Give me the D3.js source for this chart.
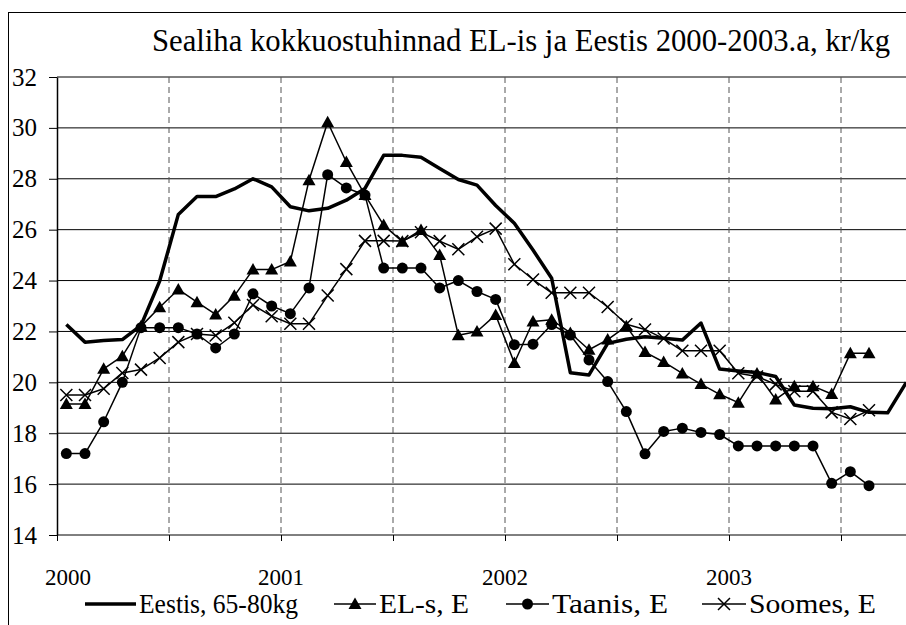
<!DOCTYPE html>
<html>
<head>
<meta charset="utf-8">
<script src="https://cdn.jsdelivr.net/npm/d3@7"></script>
<style>
  body { margin: 0; background: #fff; }
</style>
</head>
<body>
<div id="chart"></div>
<script>
// monthly prices, kr/kg, index 0 = Jan 2000
const eestis = [22.27, 21.58, 21.64, 21.68, 22.24, 23.98, 26.6, 27.3, 27.3, 27.6, 28.0, 27.68,
  26.9, 26.74, 26.84, 27.16, 27.62, 28.92, 28.92, 28.85, 28.4, 27.97, 27.75, 26.95,
  26.25, 25.2, 24.09, 20.38, 20.29, 21.53, 21.69, 21.79, 21.73, 21.66, 22.33, 20.52,
  20.45, 20.39, 20.23, 19.11, 18.98, 18.96, 19.04, 18.82, 18.8, 20.0];
const els = [19.15, 19.15, 20.53, 21.03, 22.2, 22.95, 23.65, 23.15, 22.67, 23.4, 24.43, 24.43,
  24.75, 27.94, 30.22, 28.66, 27.36, 26.18, 25.53, 25.99, 25.0, 21.85, 22.0, 22.65,
  20.76, 22.39, 22.46, 21.94, 21.28, 21.68, 22.2, 21.19, 20.8, 20.35, 19.93, 19.53,
  19.2, 20.35, 19.33, 19.85, 19.85, 19.54, 21.14, 21.14];
const taanis = [17.2, 17.2, 18.45, 20.0, 22.15, 22.15, 22.15, 21.9, 21.35, 21.9, 23.48, 23.0,
  22.7, 23.71, 28.16, 27.64, 27.36, 24.49, 24.49, 24.49, 23.71, 24.0, 23.57, 23.26,
  21.48, 21.5, 22.27, 21.86, 20.88, 20.03, 18.85, 17.19, 18.07, 18.2, 18.03, 17.95,
  17.5, 17.5, 17.5, 17.5, 17.5, 16.03, 16.49, 15.94];
const soomes = [19.5, 19.5, 19.75, 20.37, 20.5, 20.96, 21.58, 21.9, 21.84, 22.34, 23.04, 22.6,
  22.3, 22.3, 23.41, 24.45, 25.56, 25.56, 25.55, 25.9, 25.55, 25.23, 25.72, 26.04,
  24.64, 24.04, 23.52, 23.52, 23.52, 22.96, 22.28, 22.08, 21.72, 21.24, 21.24, 21.24,
  20.36, 20.23, 19.92, 19.65, 19.65, 18.82, 18.56, 18.9];
const years = ['2000', '2001', '2002', '2003'];
const yTicks = [14, 16, 18, 20, 22, 24, 26, 28, 30, 32];
const title = 'Sealiha kokkuostuhinnad EL-is ja Eestis 2000-2003.a, kr/kg';

const FONT = '"Liberation Serif"';

const series = [
  { name: 'Eestis, 65-80kg', values: eestis, marker: null, width: 3.5 },
  { name: 'EL-s, E', values: els, marker: 'triangle', width: 1.5 },
  { name: 'Taanis, E', values: taanis, marker: 'circle', width: 1.5 },
  { name: 'Soomes, E', values: soomes, marker: 'cross', width: 1.5 }
];

const W = 906, H = 625;
const margin = { top: 77, left: 57 };
const plotBottom = 535;
const plotRight = 953; // plot runs past the picture's right edge

const svg = d3.select('#chart').append('svg')
  .attr('width', W)
  .attr('height', H);

// texts go straight onto the svg root, styled inline
const addText = (size, str) => svg.append('text')
  .style('font-family', FONT)
  .style('font-size', size + 'px')
  .attr('fill', '#000')
  .text(str);

// outer frame
svg.append('rect')
  .attr('x', 8.5).attr('y', 12.5)
  .attr('width', 1000).attr('height', 1000)
  .attr('fill', 'none').attr('stroke', '#000').attr('stroke-width', 1);

// month scale: boundaries 0..48, points drawn in the middle of a month
const x = d3.scaleLinear().domain([0, 48]).range([margin.left, plotRight]);
const y = d3.scaleLinear().domain([14, 32]).range([plotBottom, margin.top]);

// horizontal gridlines
svg.append('g')
  .selectAll('line')
  .data(yTicks)
  .join('line')
  .attr('x1', margin.left).attr('x2', plotRight)
  .attr('y1', d => y(d)).attr('y2', d => y(d))
  .attr('stroke', '#000').attr('stroke-width', 1);

// dashed half-year lines
svg.append('g')
  .selectAll('line')
  .data(d3.range(6, 48, 6))
  .join('line')
  .attr('x1', d => x(d)).attr('x2', d => x(d))
  .attr('y1', margin.top).attr('y2', plotBottom)
  .attr('stroke', '#555').attr('stroke-width', 1)
  .attr('stroke-dasharray', '6,4');

// y axis (ticks from d3, labels added at the root below)
const yAxis = svg.append('g')
  .attr('transform', `translate(${margin.left},0)`)
  .call(d3.axisLeft(y).tickValues(yTicks).tickSize(8).tickSizeOuter(0).tickFormat(''));
yAxis.select('.domain').attr('stroke-width', 1.5);
yAxis.selectAll('.tick line').attr('stroke-width', 1);

yTicks.forEach(t => {
  addText(25, t)
    .attr('x', margin.left - 20)
    .attr('y', y(t))
    .attr('dy', '0.34em')
    .attr('text-anchor', 'end');
});

// x axis
const xAxis = svg.append('g')
  .attr('transform', `translate(0,${plotBottom})`)
  .call(d3.axisBottom(x)
    .tickValues(d3.range(0, 48, 6))
    .tickSize(6)
    .tickSizeOuter(0)
    .tickFormat(''));
xAxis.select('.domain').remove();

years.forEach((yr, k) => {
  addText(23, yr)
    .attr('x', x(k * 12) + (k === 0 ? 11 : 0))
    .attr('y', 585)
    .attr('text-anchor', 'middle');
});

// lines
const line = d3.line()
  .x((d, i) => x(i + 0.5))
  .y(d => y(d));

const drawMarker = (g, type, cx, cy) => {
  if (type === 'triangle') {
    g.append('path')
      .attr('d', `M${cx},${cy - 6.5}L${cx + 6.5},${cy + 5}L${cx - 6.5},${cy + 5}Z`)
      .attr('fill', '#000');
  } else if (type === 'circle') {
    g.append('circle').attr('cx', cx).attr('cy', cy).attr('r', 5.5).attr('fill', '#000');
  } else if (type === 'cross') {
    g.append('path')
      .attr('d', `M${cx - 6},${cy - 6}L${cx + 6},${cy + 6}M${cx - 6},${cy + 6}L${cx + 6},${cy - 6}`)
      .attr('stroke', '#000').attr('stroke-width', 1.5).attr('fill', 'none');
  }
};

series.forEach(s => {
  const g = svg.append('g');
  g.append('path')
    .datum(s.values)
    .attr('d', line)
    .attr('fill', 'none')
    .attr('stroke', '#000')
    .attr('stroke-width', s.width)
    .attr('stroke-linejoin', 'round');
  if (s.marker) {
    s.values.forEach((v, i) => drawMarker(g, s.marker, x(i + 0.5), y(v)));
  }
});

// title
addText(31, title)
  .attr('x', 152).attr('y', 51)
  .attr('textLength', 738)
  .attr('lengthAdjust', 'spacingAndGlyphs');

// legend
const legendY = 604;
const legendPos = [
  { key: [85, 136], text: 139, w: 159 },
  { key: [334, 376], text: 379, w: 90 },
  { key: [506, 549], text: 552, w: 116 },
  { key: [702, 746], text: 749, w: 127 }
];
const legend = svg.append('g');
series.forEach((s, i) => {
  const p = legendPos[i];
  legend.append('line')
    .attr('x1', p.key[0]).attr('x2', p.key[1])
    .attr('y1', legendY).attr('y2', legendY)
    .attr('stroke', '#000').attr('stroke-width', s.width);
  if (s.marker) drawMarker(legend, s.marker, (p.key[0] + p.key[1]) / 2, legendY);
  addText(27, s.name)
    .attr('x', p.text).attr('y', legendY + 9)
    .attr('textLength', p.w)
    .attr('lengthAdjust', 'spacingAndGlyphs');
});
</script>
</body>
</html>
